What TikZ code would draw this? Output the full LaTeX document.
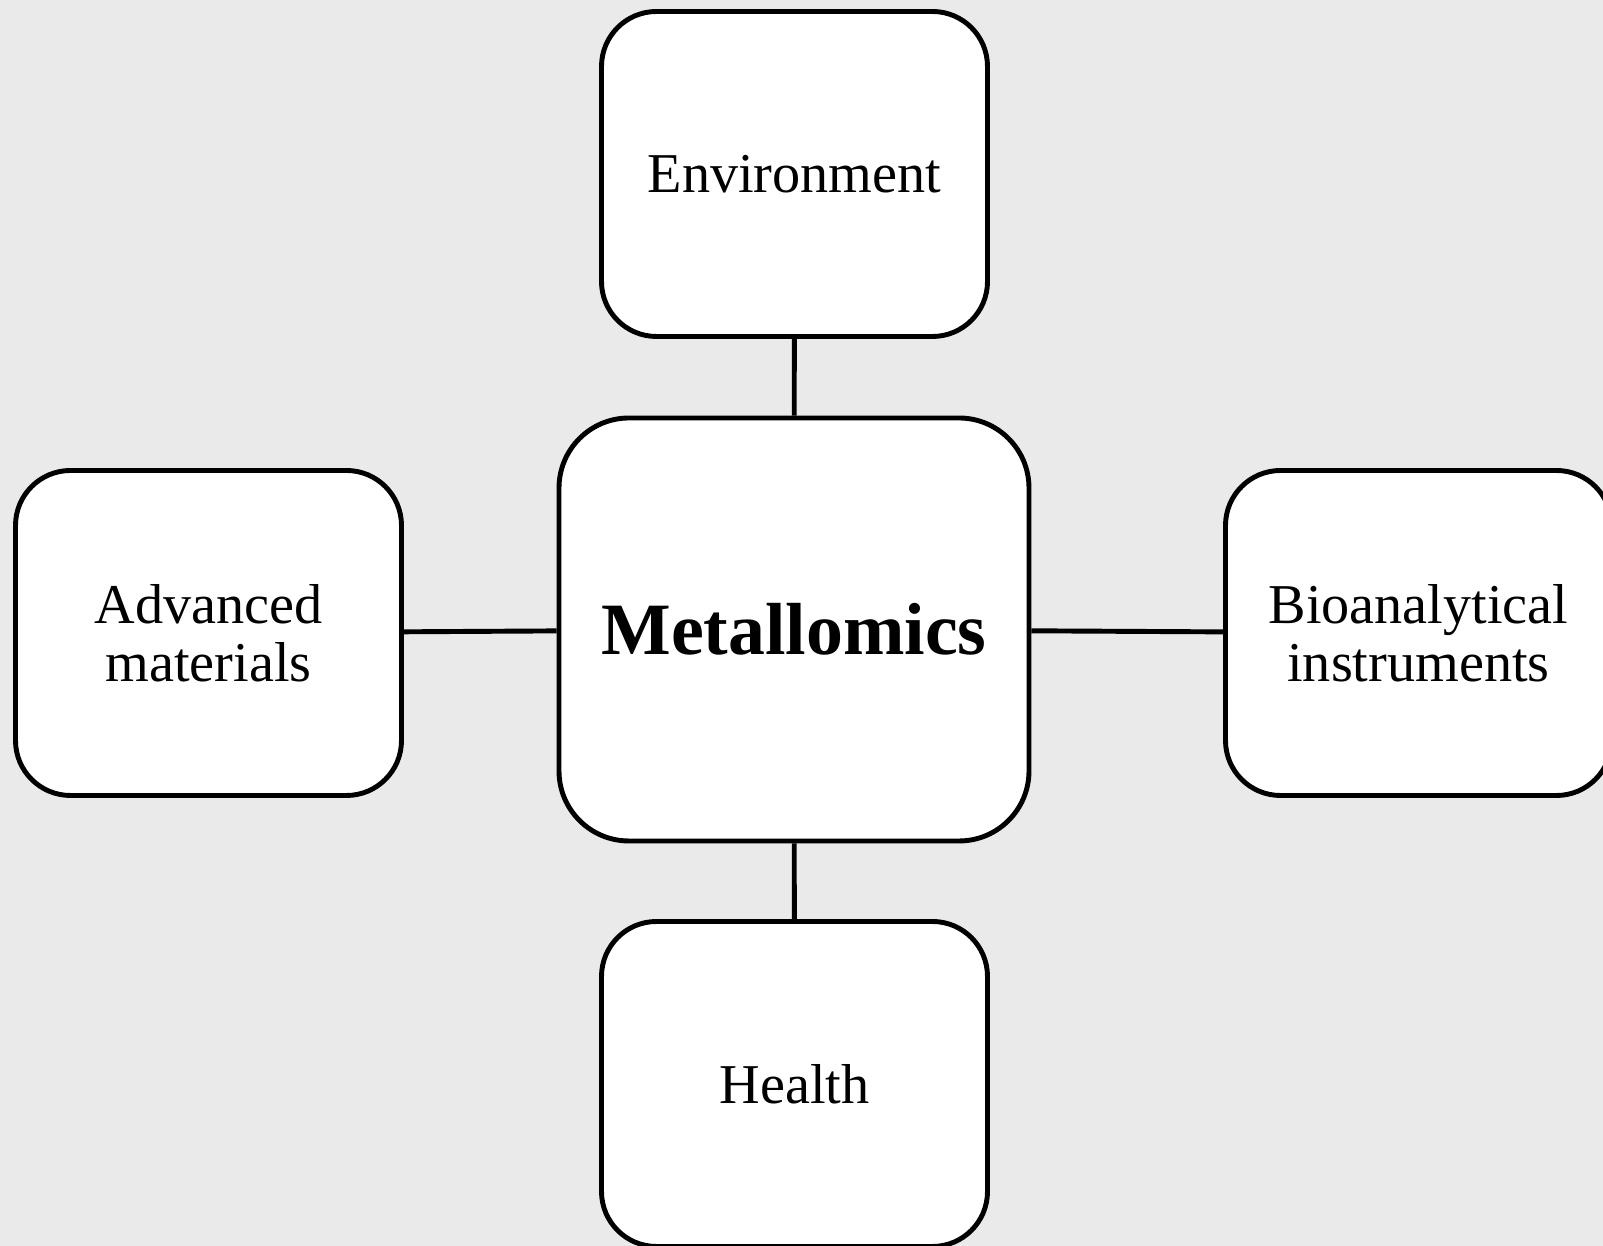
\documentclass[tikz,border=0pt]{standalone}
\usepackage{fontspec}
\setmainfont{Liberation Serif}
\usepackage{xcolor}
\definecolor{back-gray}{HTML}{EAEAEA}

\begin{document}
\begin{tikzpicture}[
        topic/.style={draw, line width=2.8pt, fill=white, rounded corners=1.1cm,
          minimum width=7.72cm, minimum height=6.5cm, inner sep=0pt, align=center,
          font=\fontsize{32}{33}\selectfont},
        hub/.style={topic, rounded corners=1.4cm, minimum width=9.4cm,
          minimum height=8.46cm, font=\fontsize{42}{44}\selectfont\bfseries},
        link/.style={line width=2.8pt}]
      \fill[back-gray] (0,0) rectangle (32.06,24.92);
      \clip (0,0) rectangle (32.06,24.92);
      % the hub and its four fields
      \node[hub] (metal) at (15.88,12.33) {Metallomics};
      \node[topic] (env) at (15.89,21.44) {Environment};
      \node[topic] (adv) at (4.17,12.26) {Advanced\\materials};
      \node[topic] (bio) at (28.37,12.26) {Bioanalytical\\instruments};
      \node[topic] (health) at (15.89,3.24) {Health};
      \draw[link] (env) -- (metal);
      \draw[link] (adv) -- (metal);
      \draw[link] (metal) -- (bio);
      \draw[link] (metal) -- (health);
    \end{tikzpicture}
\end{document}
